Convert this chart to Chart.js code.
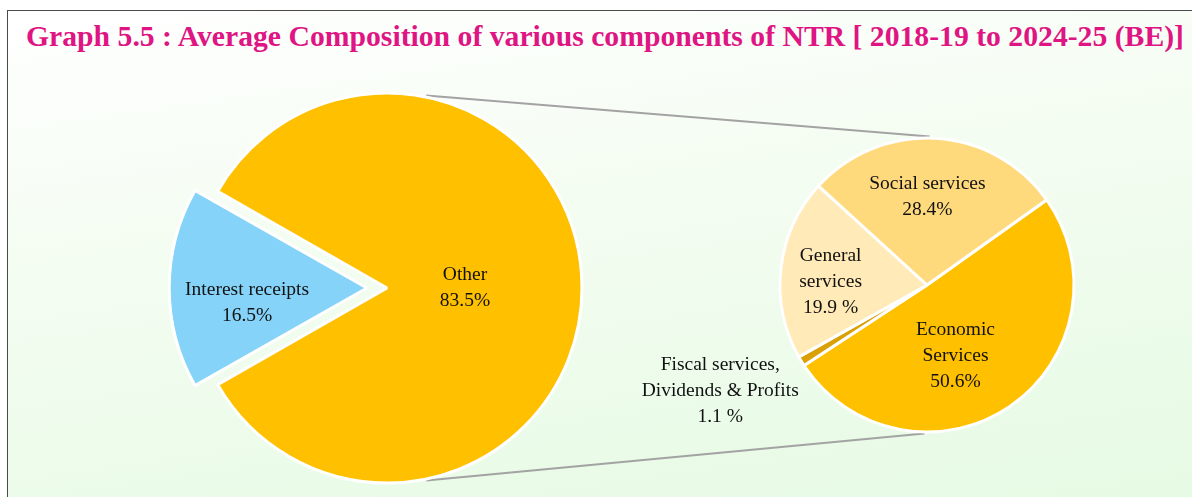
<!DOCTYPE html>
<html>
<head>
<meta charset="utf-8">
<script src="https://cdn.jsdelivr.net/npm/chart.js@4.4.1/dist/chart.umd.min.js"></script>
<style>
  html, body { margin: 0; padding: 0; background: #fff; }
  #page { position: relative; width: 1192px; height: 497px; overflow: hidden; background: #fff; }
  #frame { position: absolute; left: 7px; top: 10px; width: 1210px; height: 520px; border: 1px solid #4a4a4a;
    background: linear-gradient(172deg, #ffffff 0%, #f5fdf3 35%, #e4fae2 100%); }
  #title { position: absolute; left: 26px; top: 21px; font: bold 30px/30px "Liberation Serif", serif; color: #DE1583;
    white-space: nowrap; transform-origin: 0 0; }
  canvas { position: absolute; }
</style>
</head>
<body>
<div id="page">
  <div id="frame"></div>
  <div id="title">Graph 5.5 : Average Composition of various components of NTR [ 2018-19 to 2024-25 (BE)]</div>
  <canvas id="links" width="1192" height="497" style="left:0;top:0"></canvas>
  <canvas id="mainPie" width="440" height="440" style="left:167px;top:68px"></canvas>
  <canvas id="subPie" width="654" height="340" style="left:600px;top:115px"></canvas>
</div>
<script>
// data (percent)
const mainLabels = ['Interest receipts', 'Other'];
const mainValues = [16.5, 83.5];
const mainColors = ['#85D3F8', '#FFC000'];

const subLabels = ['Economic Services', 'Fiscal services, Dividends & Profits', 'General services', 'Social services'];
const subValues = [50.6, 1.1, 19.9, 28.4];
const subColors = ['#FFC000', '#D9A106', '#FFEAB8', '#FFDA7D'];

// text shown on slices
const mainText = [['Interest receipts', '16.5%'], ['Other', '83.5%']];
const subText = [['Economic', 'Services', '50.6%'], ['Fiscal services,', 'Dividends & Profits', '1.1 %'],
                 ['General', 'services', '19.9 %'], ['Social services', '28.4%']];

// where the labels sit: fraction of radius along slice middle + nudge
const mainPlace = [{ r: 0.615, dx: 0, dy: 15 }, { r: 0.4, dx: 0, dy: 0 }];
const subPlace = [{ r: 0.585, dx: -20, dy: 0 }, { r: 1.55, dx: -12, dy: -12 },
                  { r: 0.66, dx: 0, dy: 8 }, { r: 0.6, dx: -5, dy: 0 }];

// fit the title to the width it has in the original
const title = document.getElementById('title');
title.style.transform = 'scaleX(' + (1158 / title.getBoundingClientRect().width) + ')';

function makeLabels(id, text, place) {
  return {
    id: id,
    afterDatasetsDraw(chart) {
      const ctx = chart.ctx;
      const meta = chart.getDatasetMeta(0);
      const offs = chart.data.datasets[0].offset || [];
      ctx.save();
      ctx.font = '19.5px "Liberation Serif", serif';
      ctx.fillStyle = '#111';
      ctx.textAlign = 'center';
      ctx.textBaseline = 'middle';
      meta.data.forEach((arc, i) => {
        const p = place[i];
        const { x, y, startAngle, endAngle, outerRadius } =
          arc.getProps(['x', 'y', 'startAngle', 'endAngle', 'outerRadius'], true);
        const mid = (startAngle + endAngle) / 2;
        // arcs are shifted by offset / 4 when drawn
        const d = (offs[i] || 0) / 4 + p.r * outerRadius;
        const cx = x + Math.cos(mid) * d + p.dx;
        const cy = y + Math.sin(mid) * d + p.dy;
        const lines = text[i];
        lines.forEach((t, k) => ctx.fillText(t, cx, cy + (k - (lines.length - 1) / 2) * 26));
      });
      ctx.restore();
    }
  };
}

const baseOpts = {
  responsive: false,
  animation: false,
  plugins: { legend: { display: false }, tooltip: { enabled: false } }
};

// interest slice centred on the left side
const mainRotation = 270 - mainValues[0] / 100 * 360 / 2;

const mainChart = new Chart(document.getElementById('mainPie'), {
  type: 'pie',
  data: {
    labels: mainLabels,
    datasets: [{
      data: mainValues,
      backgroundColor: mainColors,
      borderColor: '#ffffff',
      borderWidth: 3,
      offset: [80, 0]
    }]
  },
  options: Object.assign({}, baseOpts, { rotation: mainRotation, radius: 195 }),
  plugins: [makeLabels('mainLabels', mainText, mainPlace)]
});

const subChart = new Chart(document.getElementById('subPie'), {
  type: 'pie',
  data: {
    labels: subLabels,
    datasets: [{
      data: subValues,
      backgroundColor: subColors,
      borderColor: '#ffffff',
      borderWidth: 3
    }]
  },
  options: Object.assign({}, baseOpts, { rotation: 54.6, radius: 147 }),
  plugins: [makeLabels('subLabels', subText, subPlace)]
});

// connector lines between the two pies
function edgePoint(chart, deg) {
  const arc = chart.getDatasetMeta(0).data[0];
  const r = arc.outerRadius + 1.5;
  const a = (deg - 90) * Math.PI / 180;
  const c = chart.canvas;
  return [c.offsetLeft + arc.x + Math.cos(a) * r, c.offsetTop + arc.y + Math.sin(a) * r];
}

const lctx = document.getElementById('links').getContext('2d');
lctx.strokeStyle = '#a3a3a3';
lctx.lineWidth = 2;
[[11.5, 1], [168.5, 181]].forEach(([a, b]) => {
  const p = edgePoint(mainChart, a);
  const q = edgePoint(subChart, b);
  lctx.beginPath();
  lctx.moveTo(p[0], p[1]);
  lctx.lineTo(q[0], q[1]);
  lctx.stroke();
});
</script>
</body>
</html>
